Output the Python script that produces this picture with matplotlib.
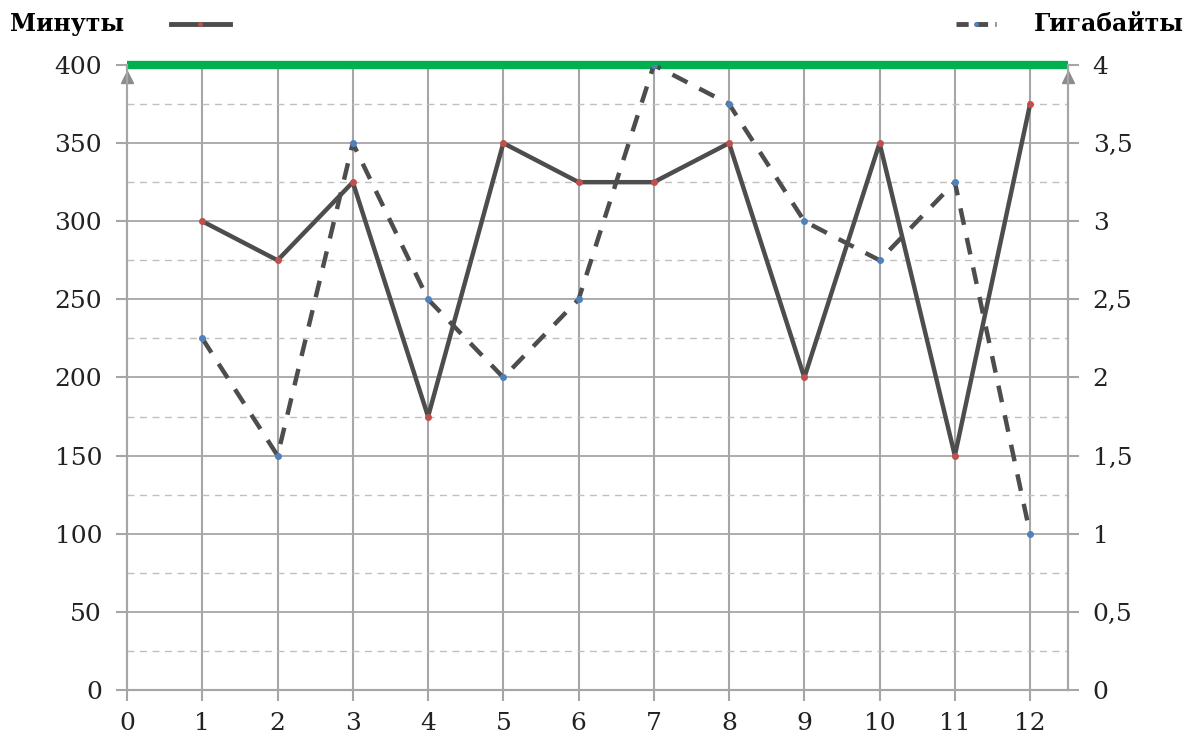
import matplotlib.pyplot as plt
from matplotlib.lines import Line2D

days = [1, 2, 3, 4, 5, 6, 7, 8, 9, 10, 11, 12]
minutes = [300, 275, 325, 175, 350, 325, 325, 350, 200, 350, 150, 375]
gigabytes = [2.25, 1.5, 3.5, 2.5, 2.0, 2.5, 4.0, 3.75, 3.0, 2.75, 3.25, 1.0]
left_ticks = [0, 50, 100, 150, 200, 250, 300, 350, 400]
right_ticks = [0, 0.5, 1, 1.5, 2, 2.5, 3, 3.5, 4]
right_labels = ['0', '0,5', '1', '1,5', '2', '2,5', '3', '3,5', '4']
x_ticks = list(range(0, 13))

grid_col = '#a6a6a6'
line_col = '#4d4d4d'
font = 'DejaVu Serif'

fig = plt.figure(figsize=(11.93, 7.36), dpi=100)
ax1 = fig.add_axes([0.1065, 0.0625, 0.7885, 0.8492])
ax2 = ax1.twinx()

ax1.set_xlim(0, 12.5)
ax1.set_ylim(0, 400)
ax2.set_ylim(0, 4)

# grid
for x in x_ticks[1:]:
    ax1.axvline(x, color=grid_col, lw=1.5, zorder=1)
for y in left_ticks[1:-1]:
    ax1.axhline(y, color=grid_col, lw=1.3, zorder=1)
for y in range(25, 400, 50):
    ax1.axhline(y, color='#c0c0c0', lw=1, ls=(0, (5, 4)), zorder=1)
# green line along the top, drawn past the axes edge
ax1.axhline(400, color='#00b050', lw=6, zorder=2, solid_capstyle='butt', clip_on=False)

ax1.plot(days, minutes, color=line_col, lw=3.2, zorder=4,
         marker='o', ms=4, mfc='#c0504d', mec='#c0504d')
ax2.plot(days, gigabytes, color=line_col, lw=3.2, ls=(0, (3.8, 3.0)), zorder=4,
         marker='o', ms=4, mfc='#4f81bd', mec='#4f81bd')

for s in ['top']:
    ax1.spines[s].set_visible(False)
    ax2.spines[s].set_visible(False)
for a in (ax1, ax2):
    for s in ['left', 'right', 'bottom']:
        a.spines[s].set_color(grid_col)
        a.spines[s].set_linewidth(1.5)

ax1.set_xticks(x_ticks)
ax1.set_xticklabels([str(x) for x in x_ticks], fontsize=18, family=font, color='#222222')
ax1.set_yticks(left_ticks)
ax1.set_yticklabels([str(v) for v in left_ticks], fontsize=18, family=font, color='#222222')
ax2.set_yticks(right_ticks)
ax2.set_yticklabels(right_labels, fontsize=18, family=font, color='#222222')
ax1.tick_params(axis='x', length=8, width=1.5, color=grid_col, pad=8)
ax1.tick_params(axis='y', length=8, width=1.5, color=grid_col, pad=10)
ax2.tick_params(axis='y', length=8, width=1.5, color=grid_col, pad=10)

# arrow heads at top of both vertical axes
ax1.plot([0], [392], marker='^', ms=9, color='#8c8c8c', clip_on=False, zorder=5)
ax1.plot([12.5], [392], marker='^', ms=9, color='#8c8c8c', clip_on=False, zorder=5)

# legends at top
fig.text(0.008, 0.968, 'Минуты', fontsize=17, family=font, weight='bold', va='center')
fig.add_artist(Line2D([0.143, 0.193], [0.968, 0.968], color=line_col, lw=3.5,
                      transform=fig.transFigure))
fig.add_artist(Line2D([0.168], [0.968], color='#c0504d', marker='o', ms=2.5,
                      transform=fig.transFigure))
fig.text(0.992, 0.968, 'Гигабайты', fontsize=17, family=font, weight='bold',
         va='center', ha='right')
fig.add_artist(Line2D([0.801, 0.835], [0.968, 0.968], color=line_col, lw=3.5,
                      ls=(0, (2.5, 1.5)), transform=fig.transFigure))
fig.add_artist(Line2D([0.818], [0.968], color='#4f81bd', marker='o', ms=2.5,
                      transform=fig.transFigure))

fig.savefig('out.png', dpi=100)
